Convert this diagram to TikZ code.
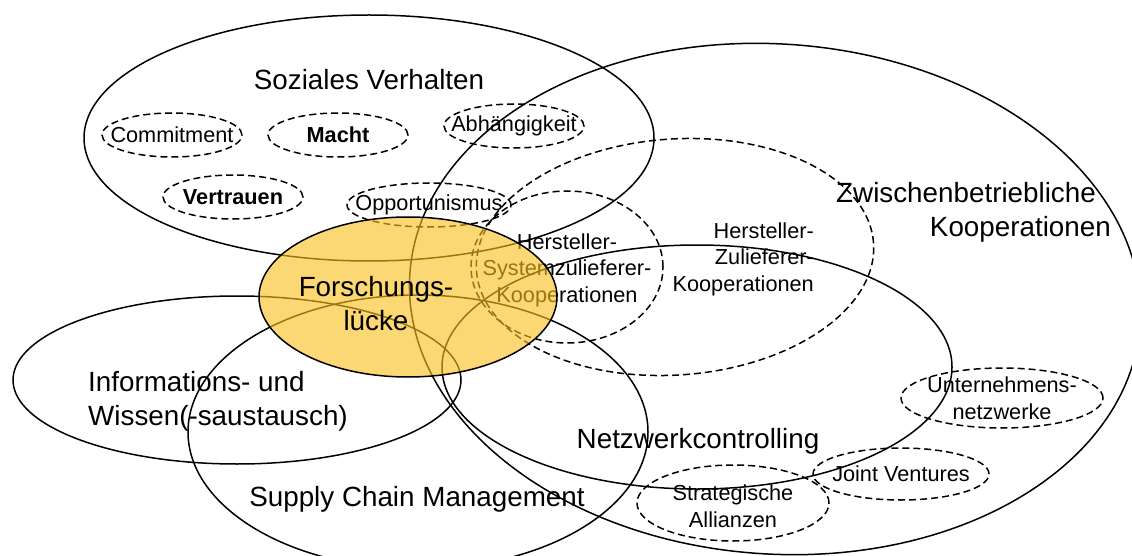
\documentclass[tikz,border=0pt]{standalone}
\usepackage{fontspec}
\setmainfont{Liberation Sans}
\usetikzlibrary{shapes.geometric}
\definecolor{gapfill}{RGB}{250,192,32}
\newcommand{\smalltxt}{\fontsize{21.7}{26.5}\selectfont}
\newcommand{\largetxt}{\fontsize{27.8}{34}\selectfont}
\tikzset{
  ring/.style={ellipse, draw=black, line width=1.5pt, inner sep=0pt, outer sep=0pt},
  dring/.style={ring, dash pattern=on 7pt off 4pt},
  sm/.style={inner sep=0pt, font=\smalltxt, align=center},
  lg/.style={inner sep=0pt, font=\largetxt, align=center},
  gap/.style={ellipse, draw=black, line width=1.5pt, fill=gapfill, fill opacity=0.62, draw opacity=1, inner sep=0pt}
}
\begin{document}
\begin{tikzpicture}[x=1pt,y=-1pt]
\useasboundingbox (0,0) rectangle (1132,556);
% large solid ellipses
\node[ring, minimum width=570pt, minimum height=246pt] (soz) at (369,138) {};
\node[ring, minimum width=732pt, minimum height=510pt, rotate=-4] (zbk) at (775,299) {};
\node[ring, minimum width=510pt, minimum height=244pt] (nwc) at (697,367) {};
\node[ring, minimum width=448pt, minimum height=168pt] (iwa) at (237,380) {};
\node[ring, minimum width=460pt, minimum height=274pt] (scm) at (418,432) {};
% dashed ellipses
\node[dring, minimum width=140pt, minimum height=44pt] (com) at (172,135) {};
\node[dring, minimum width=140pt, minimum height=44pt] (mac) at (338,135) {};
\node[dring, minimum width=140pt, minimum height=44pt] (abh) at (514,126) {};
\node[dring, minimum width=140pt, minimum height=44pt] (ver) at (233,197) {};
\node[dring, minimum width=164pt, minimum height=44pt] (opp) at (429,205) {};
\node[dring, minimum width=192pt, minimum height=152pt] (hsk) at (567,267) {};
\node[dring, minimum width=398pt, minimum height=236pt, rotate=4] (hzk) at (675,257) {};
\node[dring, minimum width=202pt, minimum height=60pt] (unw) at (1002,398) {};
\node[dring, minimum width=176pt, minimum height=52pt] (jv) at (901,474) {};
\node[dring, minimum width=192pt, minimum height=76pt] (sa) at (733,503) {};
% texts
\node[lg] (tsoz) at (369,80) {Soziales Verhalten};
\node[sm] (tcom) at (com) {Commitment};
\node[sm, font=\smalltxt\bfseries] (tmac) at (mac) {Macht};
\node[sm] (tabh) at (abh) {Abhängigkeit};
\node[sm, font=\smalltxt\bfseries] (tver) at (ver) {Vertrauen};
\node[sm] (topp) at (opp) {Opportunismus};
\node[lg, align=right, anchor=east] (tzbk) at (1111,212) {Zwischenbetriebliche\hspace*{15pt}\\Kooperationen};
\node[sm] (thsk) at (567,270) {Hersteller-\\Systemzulieferer-\\Kooperationen};
\node[sm, align=right, anchor=east] (thzk) at (814,259) {Hersteller-\\Zulieferer-\\Kooperationen};
\node[lg, align=left, anchor=west] (tiwa) at (88,401) {Informations- und\\Wissen(-saustausch)};
\node[lg] (tnwc) at (698,441) {Netzwerkcontrolling};
\node[lg] (tscm) at (417,499) {Supply Chain Management};
\node[sm] (tunw) at (unw) {Unternehmens-\\netzwerke};
\node[sm] (tjv) at (jv) {Joint Ventures};
\node[sm] (tsa) at (733,506) {Strategische\\Allianzen};
% research gap
\node[gap, minimum width=298pt, minimum height=160pt] (fl) at (408,297) {};
\node[lg] (tfl) at (376,304) {Forschungs-\\lücke};
\end{tikzpicture}
\end{document}
